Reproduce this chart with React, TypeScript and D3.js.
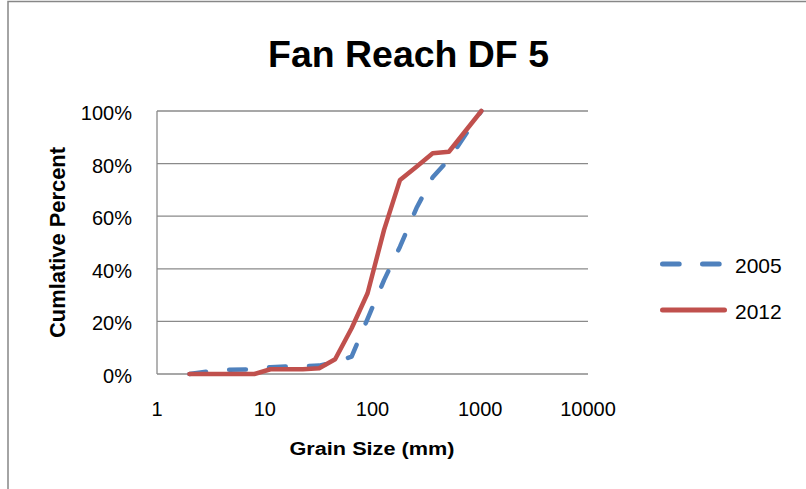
import { useMemo } from 'react';
import * as d3 from 'd3';

// grain sizes (mm) and cumulative percent passing
const sizes = [2, 4, 8, 11.3, 16, 22.6, 32, 45, 64, 90, 128, 180, 256, 362, 512, 1024];
const pct2005 = [0, 1.6, 1.8, 2.6, 2.9, 3.0, 3.2, 4.5, 6.6, 21, 35.7, 48.4, 63.1, 74.8, 81.6, 100];
const pct2012 = [0, 0, 0, 1.8, 1.8, 1.8, 2.2, 5.6, 17.4, 30.7, 54.8, 73.8, 78.8, 83.9, 84.5, 100];

const xTicks = [1, 10, 100, 1000, 10000];
const yTicks = [0, 20, 40, 60, 80, 100];

const seriesNames = ['2005', '2012'];
const seriesColors = ['#4F81BD', '#C0504D'];

const font = '"Liberation Sans", Arial, sans-serif';

export default function App() {
  const width = 806;
  const height = 489;
  const plot = { left: 157, right: 588, top: 111, bottom: 374 };

  const x = d3.scaleLog().domain([1, 10000]).range([plot.left, plot.right]);
  const y = d3.scaleLinear().domain([0, 100]).range([plot.bottom, plot.top]);

  const line = d3
    .line<[number, number]>()
    .x(d => x(d[0]))
    .y(d => y(d[1]));

  const paths = useMemo(
    () => [pct2005, pct2012].map(vals => line(sizes.map((s, i) => [s, vals[i]]))),
    []
  );

  return (
    <svg
      width={width}
      height={height}
      style={{ position: 'absolute', left: 0, top: 0, background: '#fff' }}
    >
      <rect x={0} y={0} width={width} height={height} fill="#fff" />
      {/* chart border */}
      <rect x={8} y={1.5} width={width + 10} height={height + 10} fill="none" stroke="#878787" strokeWidth={1.5} />

      {/* title */}
      <text
        x={408.5}
        y={66.5}
        textAnchor="middle"
        fontFamily={font}
        fontWeight="bold"
        fontSize={36}
        textLength={281}
        lengthAdjust="spacingAndGlyphs"
      >
        Fan Reach DF 5
      </text>

      {/* gridlines */}
      {yTicks.map(t => (
        <line key={t} x1={plot.left} x2={plot.right} y1={y(t)} y2={y(t)} stroke="#8a8a8a" strokeWidth={1.3} />
      ))}
      {/* y axis line */}
      <line x1={plot.left} x2={plot.left} y1={plot.top} y2={plot.bottom} stroke="#8a8a8a" strokeWidth={1.3} />

      {/* y tick labels */}
      {yTicks.map(t => (
        <text key={t} x={132} y={y(t) + 9} textAnchor="end" fontFamily={font} fontSize={20} fill="#000">
          {`${t}%`}
        </text>
      ))}

      {/* x tick labels */}
      {xTicks.map(t => (
        <text key={t} x={x(t)} y={416} textAnchor="middle" fontFamily={font} fontSize={20} fill="#000">
          {t}
        </text>
      ))}

      {/* axis titles */}
      <text
        x={372}
        y={455}
        textAnchor="middle"
        fontFamily={font}
        fontWeight="bold"
        fontSize={18}
        textLength={165}
        lengthAdjust="spacingAndGlyphs"
      >
        Grain Size (mm)
      </text>
      <text
        transform={`translate(65,${(plot.top + plot.bottom) / 2}) rotate(-90)`}
        textAnchor="middle"
        fontFamily={font}
        fontWeight="bold"
        fontSize={22}
        textLength={191}
        lengthAdjust="spacingAndGlyphs"
      >
        Cumlative Percent
      </text>

      {/* series */}
      <path
        d={paths[0] || ''}
        fill="none"
        stroke={seriesColors[0]}
        strokeWidth={4.5}
        strokeDasharray="16.7,23.3"
        strokeLinecap="round"
        strokeLinejoin="round"
      />
      <path
        d={paths[1] || ''}
        fill="none"
        stroke={seriesColors[1]}
        strokeWidth={4.5}
        strokeLinecap="round"
        strokeLinejoin="round"
      />

      {/* legend */}
      {seriesNames.map((name, i) => (
        <g key={name} transform={`translate(0,${264 + i * 46})`}>
          <line
            x1={662.5}
            x2={724.5}
            y1={0}
            y2={0}
            stroke={seriesColors[i]}
            strokeWidth={5}
            strokeLinecap="round"
            strokeDasharray={i === 0 ? '16.7,23.3' : undefined}
          />
          <text x={735} y={9.3} fontFamily={font} fontSize={21} fill="#000">
            {name}
          </text>
        </g>
      ))}
    </svg>
  );
}
